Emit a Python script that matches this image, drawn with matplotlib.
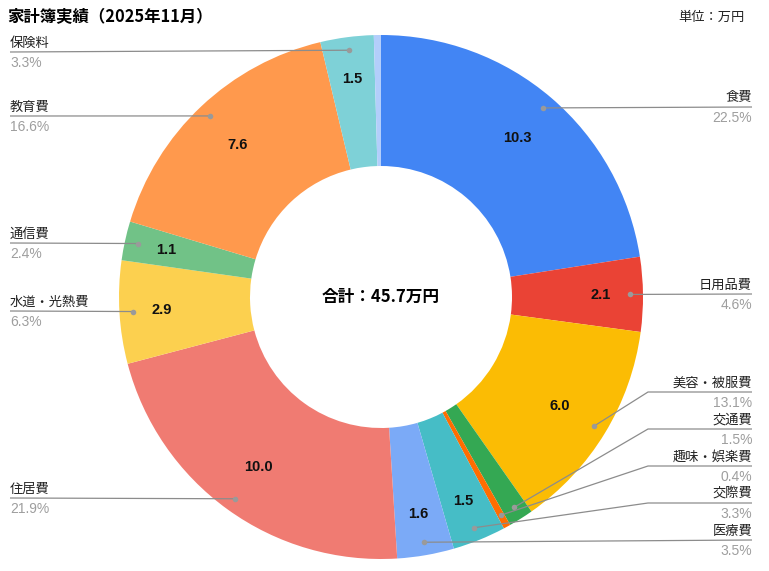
import numpy as np
import matplotlib.pyplot as plt

plt.rcParams['font.family'] = ['Noto Sans CJK JP', 'DejaVu Sans']

# data (万円)
categories = ['食費', '日用品費', '美容・被服費', '交通費', '趣味・娯楽費', '交際費', '医療費',
              '住居費', '水道・光熱費', '通信費', '教育費', '保険料', 'その他']
values = [10.3, 2.1, 6.0, 0.7, 0.2, 1.5, 1.6, 10.0, 2.9, 1.1, 7.6, 1.5, 0.2]
colors = ['#4285F4', '#EA4335', '#FBBC04', '#34A853', '#FF6D01', '#46BDC6', '#7BAAF7',
          '#F07B72', '#FCD04F', '#71C287', '#FF994D', '#7ED1D7', '#B3CEFB']

# layout: which side the callout goes, and y (pixels from top) of its line
sides = ['R', 'R', 'R', 'R', 'R', 'R', 'R', 'L', 'L', 'L', 'L', 'L', None]
line_y = [107, 294, 392, 429, 466, 503, 540, 498, 311, 243, 116, 52, None]

W, H = 769, 571
CX, CY, R = 381, 297, 262
LATIN = ['Liberation Sans', 'DejaVu Sans']


def py(y):
    return H - y


total = sum(values)

fig = plt.figure(figsize=(W / 100, H / 100), dpi=100)
ax = fig.add_axes([0, 0, 1, 1])
wedges, _ = ax.pie(values, colors=colors, startangle=90, counterclock=False,
                   center=(CX, py(CY)), radius=R,
                   wedgeprops=dict(width=R * 0.5, linewidth=0))
ax.set_xlim(0, W)
ax.set_ylim(0, H)
ax.set_aspect('equal')
ax.axis('off')

line_col = '#8c8c8c'
for w, cat, v, side, ly in zip(wedges, categories, values, sides, line_y):
    pct = v / total * 100
    mid = np.deg2rad((w.theta1 + w.theta2) / 2)
    # value label inside the ring
    if pct >= 2:
        rl = 0.80 if pct > 10 else 0.84
        ax.text(CX + rl * R * np.cos(mid), py(CY) + rl * R * np.sin(mid), f'{v:.1f}',
                ha='center', va='center', fontsize=10.5, fontweight='bold',
                color='#111111', family=LATIN)
    if side is None:
        continue
    dx, dy = CX + 0.95 * R * np.cos(mid), py(CY) + 0.95 * R * np.sin(mid)
    ly = py(ly)
    if side == 'R':
        end, elbow, tx, ha = 752, 648, 752, 'right'
    else:
        end, elbow, tx, ha = 10, 130, 10, 'left'
    if abs(dy - ly) < 4:
        xs, ys = [dx, end], [dy, ly]
    else:
        xs, ys = [dx, elbow, end], [dy, ly, ly]
    ax.plot(xs, ys, color=line_col, lw=0.9, solid_capstyle='butt')
    ax.plot(dx, dy, 'o', ms=4, color='#9a9a9a', mec='none')
    ax.text(tx, ly + 9, cat, ha=ha, va='center', fontsize=9.5, color='#222222')
    ax.text(tx, ly - 11, f'{pct:.1f}%', ha=ha, va='center', fontsize=10,
            color='#9e9e9e', family=LATIN)

ax.text(CX, py(CY), '合計：45.7万円', ha='center', va='center', fontsize=12,
        fontweight='bold', color='#000000')
ax.text(7, py(17), '家計簿実績（2025年11月）', ha='left', va='center', fontsize=11.8,
        fontweight='bold', color='#000000')
ax.text(745, py(17), '単位：万円', ha='right', va='center', fontsize=9.5, color='#222222')

fig.savefig('out.png', dpi=100, facecolor='white')
